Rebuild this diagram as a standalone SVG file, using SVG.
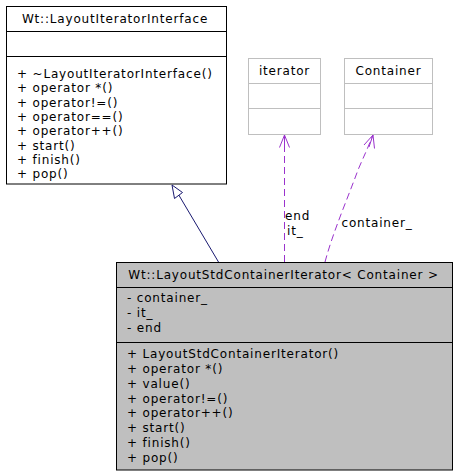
<svg xmlns="http://www.w3.org/2000/svg" width="467" height="475" viewBox="0 0 467 475">
<style>
text{font-family:"DejaVu Sans","Liberation Sans",sans-serif;font-size:12px;letter-spacing:0.82px;fill:#000}
.t{text-anchor:middle}
.box{fill:#fff;stroke:#000;stroke-width:1}
.gbox{fill:#fff;stroke:#bfbfbf;stroke-width:1}
.cur{fill:#bfbfbf;stroke:#000;stroke-width:1}
.dep{fill:none;stroke:#9a32cd;stroke-width:1;stroke-dasharray:7,4}
.ah{fill:none;stroke:#9a32cd;stroke-width:1}
.inh{fill:none;stroke:#191970;stroke-width:1}
</style>
<rect width="467" height="475" fill="#fff"/>
<g id="connectors">
<path class="inh" d="M218.5,262 L177,192"/>
<polygon points="172,185 174.5,198.5 182.5,192.5" fill="#fff" stroke="#191970" stroke-width="1"/>
<path class="dep" d="M284.5,262 L284.5,137"/>
<path class="ah" d="M279.5,147.5 L284.5,135 L289.5,147.5 M284.5,135 L284.5,147.5"/>
<path class="dep" d="M325,262 C333,232 347,200 358,170 C363,158 368,148 372,137"/>
<path class="ah" d="M364,145 L373,135 L374.5,148.5 M373,135 L369,147"/>
<text x="285" y="220">end</text>
<text x="287" y="235">it_</text>
<text x="341.5" y="226.5">container_</text>
</g>
<g id="node-LayoutIteratorInterface">
<rect class="box" x="6.5" y="6.5" width="220" height="177.5"/>
<line x1="6.5" y1="31.5" x2="226.5" y2="31.5" stroke="#000"/>
<line x1="6.5" y1="56.5" x2="226.5" y2="56.5" stroke="#000"/>
<text class="t" x="115" y="23">Wt::LayoutIteratorInterface</text>
<text x="17" y="78">+ ~LayoutIteratorInterface()</text>
<text x="17" y="92.3">+ operator *()</text>
<text x="17" y="106.6">+ operator!=()</text>
<text x="17" y="120.9">+ operator==()</text>
<text x="17" y="135.2">+ operator++()</text>
<text x="17" y="149.5">+ start()</text>
<text x="17" y="163.8">+ finish()</text>
<text x="17" y="178.1">+ pop()</text>
</g>
<g id="node-iterator">
<rect class="gbox" x="248.5" y="58.5" width="72" height="76"/>
<line x1="248.5" y1="83.5" x2="320.5" y2="83.5" stroke="#bfbfbf"/>
<line x1="248.5" y1="108.5" x2="320.5" y2="108.5" stroke="#bfbfbf"/>
<text class="t" x="284.5" y="75">iterator</text>
</g>
<g id="node-Container">
<rect class="gbox" x="344.5" y="58.5" width="88" height="76"/>
<line x1="344.5" y1="83.5" x2="432.5" y2="83.5" stroke="#bfbfbf"/>
<line x1="344.5" y1="108.5" x2="432.5" y2="108.5" stroke="#bfbfbf"/>
<text class="t" x="388.5" y="75">Container</text>
</g>
<g id="node-LayoutStdContainerIterator">
<rect class="cur" x="116.5" y="262.5" width="336" height="207.5"/>
<line x1="116.5" y1="287.5" x2="452.5" y2="287.5" stroke="#000"/>
<line x1="116.5" y1="342.5" x2="452.5" y2="342.5" stroke="#000"/>
<text class="t" x="283.5" y="279">Wt::LayoutStdContainerIterator&lt; Container &gt;</text>
<text x="127" y="302">- container_</text>
<text x="127" y="317">- it_</text>
<text x="127" y="332">- end</text>
<text x="127" y="358">+ LayoutStdContainerIterator()</text>
<text x="127" y="372.9">+ operator *()</text>
<text x="127" y="387.7">+ value()</text>
<text x="127" y="402.6">+ operator!=()</text>
<text x="127" y="417.4">+ operator++()</text>
<text x="127" y="432.3">+ start()</text>
<text x="127" y="447.1">+ finish()</text>
<text x="127" y="462">+ pop()</text>
</g>
</svg>
